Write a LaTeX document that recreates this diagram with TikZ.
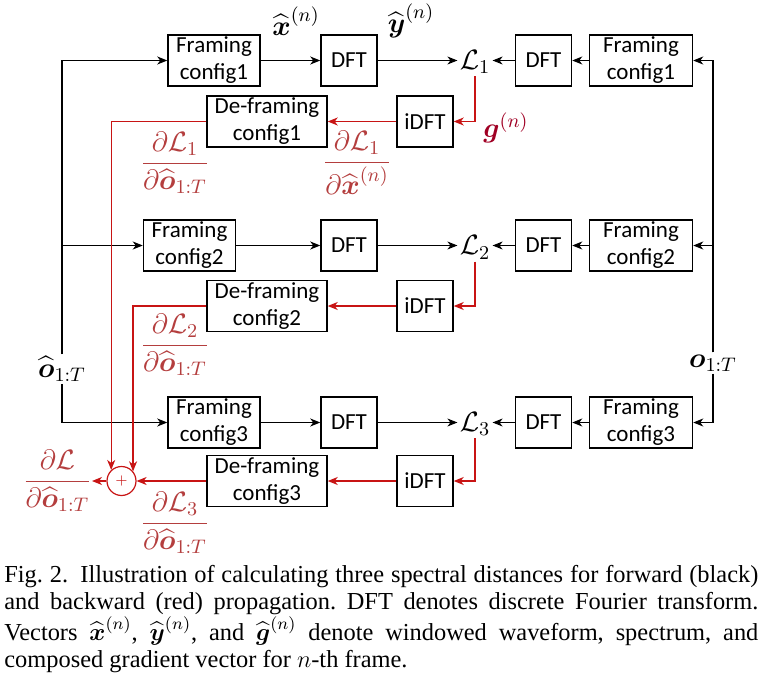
\RequirePackage{fix-cm}
\documentclass[tikz,border=0pt]{standalone}
\usepackage{amsmath}
\usepackage{amssymb}
\usepackage[no-math]{fontspec}
\setmainfont{Liberation Serif}
\newfontfamily\boxfont{Carlito}
\usetikzlibrary{arrows.meta}

\definecolor{bwdred}{RGB}{200,20,20}
\definecolor{gradred}{RGB}{180,62,62}
\definecolor{gvecred}{RGB}{160,0,36}

\tikzset{
	block/.style={draw, line width=0.75pt, minimum height=25.5pt, inner sep=1pt, align=center, font=\boxfont\fontsize{11.5}{13.5}\selectfont},
	lbl/.style={inner sep=1pt, font=\fontsize{14}{16}\selectfont},
	fwd/.style={-{Stealth[length=5pt,width=4pt,inset=1.5pt]}, line width=0.6pt},
	bwd/.style={fwd, bwdred},
}

\begin{document}
\begin{tikzpicture}[x=0.5pt, y=-0.5pt]
				\useasboundingbox (0,0) rectangle (762,675);
				
				% Forward blocks
				\node[block, minimum width=46pt] (lf1) at (214,60.5) {Framing\\config1};
				\node[block, minimum width=46pt] (lf2) at (189.5,245.5) {Framing\\config2};
				\node[block, minimum width=46pt] (lf3) at (214,422.5) {Framing\\config3};
				
				\node[block, minimum width=28pt] (ld1) at (349,60.5) {DFT};
				\node[block, minimum width=28pt] (ld2) at (349,245.5) {DFT};
				\node[block, minimum width=28pt] (ld3) at (349,422.5) {DFT};
				
				\node[block, minimum width=28pt] (rd1) at (543.5,60.5) {DFT};
				\node[block, minimum width=28pt] (rd2) at (543.5,245.5) {DFT};
				\node[block, minimum width=28pt] (rd3) at (543.5,422.5) {DFT};
				
				\node[block, minimum width=51.5pt] (rf1) at (641,60.5) {Framing\\config1};
				\node[block, minimum width=51.5pt] (rf2) at (641,245.5) {Framing\\config2};
				\node[block, minimum width=51.5pt] (rf3) at (641,422.5) {Framing\\config3};
				
				% Losses
				\node[lbl] (L1) at (475,62) {$\mathcal{L}_1$};
				\node[lbl] (L2) at (475,247.5) {$\mathcal{L}_2$};
				\node[lbl] (L3) at (475,424) {$\mathcal{L}_3$};
				
				% Backward blocks
				\node[block, minimum width=28pt] (idft1) at (425,121.5) {iDFT};
				\node[block, minimum width=28pt] (idft2) at (425,306) {iDFT};
				\node[block, minimum width=28pt] (idft3) at (425,481) {iDFT};
				
				\node[block, minimum width=60pt] (df1) at (267,121.5) {De-framing\\config1};
				\node[block, minimum width=60pt] (df2) at (267,306) {De-framing\\config2};
				\node[block, minimum width=60pt] (df3) at (267,481) {De-framing\\config3};
				
				\node[circle, draw=bwdred, line width=0.6pt, minimum size=14.5pt, inner sep=0pt, text=bwdred] (sum) at (121.5,481) {\scriptsize$+$};
				
				% Inputs
				\node[lbl] (ohat) at (62,369) {$\widehat{\boldsymbol{o}}_{1:T}$};
				\node[lbl] (otgt) at (713,363) {$\boldsymbol{o}_{1:T}$};
				
				% Labels
				\node[lbl] (xlbl) at (296,21) {$\widehat{\boldsymbol{x}}^{(n)}$};
				\node[lbl] (ylbl) at (411,21) {$\widehat{\boldsymbol{y}}^{(n)}$};
				\node[lbl, text=gvecred] (glbl) at (506,128) {$\boldsymbol{g}^{(n)}$};
				\node[lbl, text=gradred] (dx1) at (357,163) {$\dfrac{\partial\mathcal{L}_1}{\partial\widehat{\boldsymbol{x}}^{(n)}}$};
				\node[lbl, text=gradred] (do1) at (175,163) {$\dfrac{\partial\mathcal{L}_1}{\partial\widehat{\boldsymbol{o}}_{1:T}}$};
				\node[lbl, text=gradred] (do2) at (175,345) {$\dfrac{\partial\mathcal{L}_2}{\partial\widehat{\boldsymbol{o}}_{1:T}}$};
				\node[lbl, text=gradred] (do3) at (175,523) {$\dfrac{\partial\mathcal{L}_3}{\partial\widehat{\boldsymbol{o}}_{1:T}}$};
				\node[lbl, text=gradred, anchor=east, inner sep=0pt] (dL) at (92,481) {$\dfrac{\partial\mathcal{L}}{\partial\widehat{\boldsymbol{o}}_{1:T}}$};
				
				% Forward lines
				\draw[fwd] (ohat.north) |- (lf1.west);
				\draw[fwd] (ohat.north) |- (lf2.west);
				\draw[fwd] (ohat.south) |- (lf3.west);
				\draw[fwd] (lf1) -- (ld1);
				\draw[fwd] (lf2) -- (ld2);
				\draw[fwd] (lf3) -- (ld3);
				\draw[fwd] (ld1) -- (L1.west |- ld1.east);
				\draw[fwd] (ld2) -- (L2.west |- ld2.east);
				\draw[fwd] (ld3) -- (L3.west |- ld3.east);
				\draw[fwd] (otgt.north) |- (rf1.east);
				\draw[fwd] (otgt.north) |- (rf2.east);
				\draw[fwd] (otgt.south) |- (rf3.east);
				\draw[fwd] (rf1) -- (rd1);
				\draw[fwd] (rf2) -- (rd2);
				\draw[fwd] (rf3) -- (rd3);
				\draw[fwd] (rd1) -- (L1.east |- rd1.west);
				\draw[fwd] (rd2) -- (L2.east |- rd2.west);
				\draw[fwd] (rd3) -- (L3.east |- rd3.west);
				
				% Backward lines
				\draw[bwd] (L1.south) |- (idft1.east);
				\draw[bwd] (L2.south) |- (idft2.east);
				\draw[bwd] (L3.south) |- (idft3.east);
				\draw[bwd] (idft1) -- (df1);
				\draw[bwd] (idft2) -- (df2);
				\draw[bwd] (idft3) -- (df3);
				\draw[bwd] (df1.west) -| (sum.133);
				\draw[bwd] (df2.west) -| (sum.40);
				\draw[bwd] (df3) -- (sum);
				\draw[bwd] (sum) -- (dL.east);
				
				% Caption
				\node[anchor=base west, inner sep=0pt, text width=377pt, align=justify] (cap) at (4,582) {\fontsize{12.2}{13.5}\selectfont\frenchspacing Fig.~2.\enskip Illustration of calculating three spectral distances for forward (black)\linebreak and backward (red) propagation. DFT denotes discrete Fourier transform.\linebreak Vectors $\widehat{\boldsymbol{x}}^{(n)}$, $\widehat{\boldsymbol{y}}^{(n)}$, and $\widehat{\boldsymbol{g}}^{(n)}$ denote windowed waveform, spectrum, and\linebreak composed gradient vector for $n$-th frame.\par};
			\end{tikzpicture}
\end{document}
